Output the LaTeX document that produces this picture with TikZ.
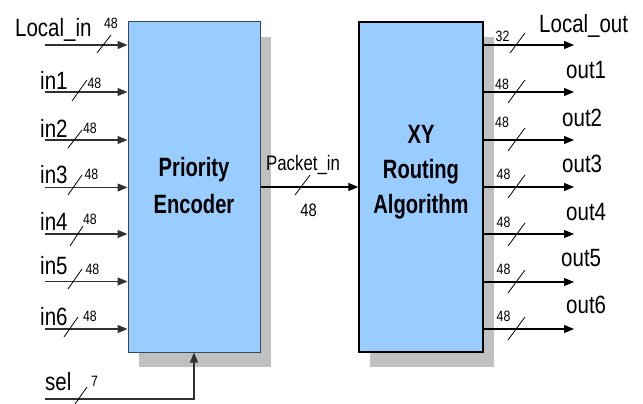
\documentclass[tikz,border=0pt]{standalone}
\usepackage{fontspec}
\usepackage{graphicx}
\setmainfont{Liberation Sans}
\usetikzlibrary{arrows.meta,shadows,calc}
\definecolor{boxblue}{HTML}{99CCFF}
\definecolor{shadowgray}{HTML}{C0C0C0}
\definecolor{lineg}{HTML}{303030}
\definecolor{leftborder}{HTML}{34495E}
\newcommand{\nar}[1]{\scalebox{0.82}[1]{#1}}
\newcommand{\narb}[1]{\scalebox{0.76}[1]{#1}}
\begin{document}
\begin{tikzpicture}[x=1pt,y=-1pt,
  box/.style={rectangle, fill=boxblue, minimum width=132pt, minimum height=330pt, inner sep=0pt,
    drop shadow={shadow xshift=10.5pt, shadow yshift=-15pt, fill=shadowgray, opacity=1}},
  biglbl/.style={font=\fontsize{25}{25}\selectfont, inner sep=0pt, anchor=base west},
  num/.style={font=\fontsize{15}{15}\selectfont, inner sep=0pt},
  title/.style={font=\fontsize{26.5}{26.5}\selectfont\bfseries, inner sep=0pt, anchor=base},
  arr/.style={line width=1.2pt, draw=lineg, -{Triangle[length=10pt,width=8pt]}},
  oarr/.style={line width=1.1pt, draw=black, -{Triangle[length=10pt,width=8pt]}},
  slash/.style={line width=0.8pt, draw=black}]
\useasboundingbox (0,0) rectangle (643,404);

% boxes
\node[box, draw=leftborder, line width=1pt] (pe) at (194,187) {};
\node[box, draw=black, line width=1.4pt, minimum width=124pt] (rb) at (421,187) {};

\node[title] (pe1) at (194,176) {\narb{Priority}};
\node[title] (pe2) at (194,213) {\narb{Encoder}};
\node[title] (rb1) at (421,143) {\narb{XY}};
\node[title] (rb2) at (421,178) {\narb{Routing}};
\node[title] (rb3) at (421,213) {\narb{Algorithm}};

% inputs
\coordinate (i0) at (45,45);
\coordinate (i1) at (45,92);
\coordinate (i2) at (45,140);
\coordinate (i3) at (45,187.5);
\coordinate (i4) at (45,234);
\coordinate (i5) at (45,281.5);
\coordinate (i6) at (45,329);
\foreach \k in {0,...,6}{\draw[arr] (i\k) -- (i\k -| pe.west);}

\node[biglbl] (l0) at (15,37) {\nar{Local\_in}};
\node[biglbl] (l1) at (40,90) {\nar{in1}};
\node[biglbl] (l2) at (40,137) {\nar{in2}};
\node[biglbl] (l3) at (40,183) {\nar{in3}};
\node[biglbl] (l4) at (40,230) {\nar{in4}};
\node[biglbl] (l5) at (40,274) {\nar{in5}};
\node[biglbl] (l6) at (40,325) {\nar{in6}};

\draw[slash] (97,53) -- (111,35);
\draw[slash] (72,101) -- (87,80);
\draw[slash] (68,148) -- (82,130);
\draw[slash] (68,195) -- (82,175);
\draw[slash] (70,246) -- (83,226);
\draw[slash] (68,289) -- (82,269);
\draw[slash] (64,337) -- (78,317);

\node[num] (n0) at (111,23) {\nar{48}};
\node[num] (n1) at (94.5,83) {\nar{48}};
\node[num] (n2) at (90,128) {\nar{48}};
\node[num] (n3) at (91.5,174.5) {\nar{48}};
\node[num] (n4) at (90,219) {\nar{48}};
\node[num] (n5) at (92.5,269) {\nar{48}};
\node[num] (n6) at (90,316) {\nar{48}};

% sel
\coordinate (sel) at (45,399);
\draw[arr] (sel) -| (pe.south);
\node[biglbl] (lsel) at (45,390) {\nar{sel}};
\draw[slash] (75,404) -- (87,387);
\node[num] (nsel) at (94.5,381) {\nar{7}};

% packet_in
\draw[oarr] (pe.east |- 0,187) -- (rb.west |- 0,187);
\node[font=\fontsize{21}{21}\selectfont, inner sep=0pt, anchor=base west] (pk) at (266,170) {\scalebox{0.8}[1]{Packet\_in}};
\draw[slash] (295,195) -- (310,175);
\node[font=\fontsize{18}{18}\selectfont, inner sep=0pt] (npk) at (308.5,210.5) {\nar{48}};

% outputs
\coordinate (o0) at (574,45);
\coordinate (o1) at (574,92);
\coordinate (o2) at (574,140);
\coordinate (o3) at (574,187);
\coordinate (o4) at (574,234);
\coordinate (o5) at (574,282);
\coordinate (o6) at (574,329);
\foreach \k in {0,...,6}{\draw[oarr] (o\k -| rb.east) -- (o\k);}

\node[biglbl] (m0) at (539,33) {\nar{Local\_out}};
\node[biglbl] (m1) at (566,78) {\nar{out1}};
\node[biglbl] (m2) at (562,126) {\nar{out2}};
\node[biglbl] (m3) at (562,172) {\nar{out3}};
\node[biglbl] (m4) at (566,220) {\nar{out4}};
\node[biglbl] (m5) at (561,266) {\nar{out5}};
\node[biglbl] (m6) at (566,313) {\nar{out6}};

\draw[slash] (510,53) -- (525,33);
\draw[slash] (508,103) -- (525,80);
\draw[slash] (508,151) -- (525,128);
\draw[slash] (508,198) -- (525,175);
\draw[slash] (508,246) -- (525,223);
\draw[slash] (508,293) -- (525,270);
\draw[slash] (508,340) -- (525,317);

\node[num] (p0) at (502.5,36) {\nar{32}};
\node[num] (p1) at (502,84) {\nar{48}};
\node[num] (p2) at (502,122.5) {\nar{48}};
\node[num] (p3) at (503.5,174) {\nar{48}};
\node[num] (p4) at (503.5,222) {\nar{48}};
\node[num] (p5) at (503.5,269) {\nar{48}};
\node[num] (p6) at (503.5,316) {\nar{48}};
\end{tikzpicture}
\end{document}
